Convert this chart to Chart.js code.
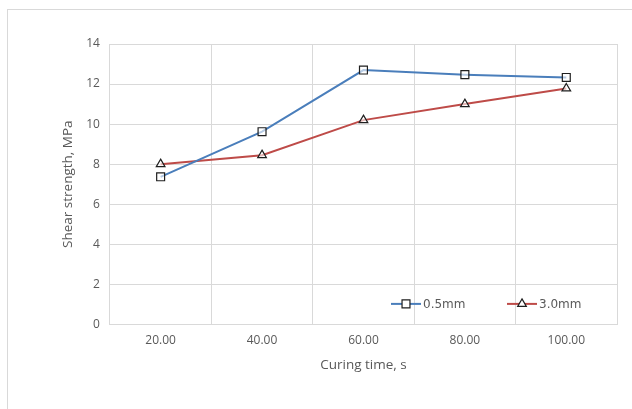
<!DOCTYPE html>
<html>
<head>
<meta charset="utf-8">
<script src="https://cdn.jsdelivr.net/npm/chart.js@4"></script>
<style>
html,body{margin:0;padding:0;background:#fff;}
#wrap{position:relative;width:632px;height:409px;}
</style>
</head>
<body>
<div id="wrap"><canvas id="c" width="632" height="409"></canvas></div>
<script>
const categories = ["20.00", "40.00", "60.00", "80.00", "100.00"];
const series05 = [7.37, 9.62, 12.70, 12.47, 12.33];
const series30 = [8.00, 8.45, 10.20, 11.00, 11.78];
const seriesNames = ["0.5mm", "3.0mm"];
const yTicks = [0, 2, 4, 6, 8, 10, 12, 14];

const FONT = "'Open Sans',sans-serif";
const LEGEND_FONT = "'DejaVu Sans',sans-serif";
const TXT = '#595959';
const GRID = '#d9d9d9';

const outerBorder = {
  id: 'outerBorder',
  beforeDraw(chart) {
    const ctx = chart.ctx;
    ctx.save();
    ctx.fillStyle = '#fff';
    ctx.fillRect(0, 0, chart.width, chart.height);
    ctx.strokeStyle = '#d9d9d9';
    ctx.lineWidth = 1;
    ctx.strokeRect(7.5, 9.5, chart.width + 20, chart.height + 20);
    ctx.restore();
  }
};

const insideLegend = {
  id: 'insideLegend',
  afterDatasetsDraw(chart) {
    const ctx = chart.ctx;
    const a = chart.chartArea;
    const y = a.bottom - 20.5;
    const starts = [a.right - 226, a.right - 110];
    ctx.save();
    chart.data.datasets.forEach((ds, i) => {
      const x0 = starts[i];
      ctx.strokeStyle = ds.borderColor;
      ctx.lineWidth = 2;
      ctx.beginPath();
      ctx.moveTo(x0, y);
      ctx.lineTo(x0 + 30, y);
      ctx.stroke();
      ctx.fillStyle = '#ffffff';
      ctx.strokeStyle = '#1f1f1f';
      ctx.lineWidth = 1.2;
      Chart.helpers.drawPoint(ctx, {
        pointStyle: ds.pointStyle,
        radius: ds.pointRadius,
        borderWidth: 1.2
      }, x0 + 15, y);
      ctx.fillStyle = TXT;
      ctx.font = "12px " + LEGEND_FONT;
      ctx.textBaseline = 'middle';
      ctx.textAlign = 'left';
      ctx.fillText(ds.label, x0 + 32, y + 0.5);
    });
    ctx.restore();
  }
};

new Chart(document.getElementById('c'), {
  type: 'line',
  data: {
    labels: categories,
    datasets: [
      {
        label: seriesNames[0],
        data: series05,
        borderColor: '#4a7ebb',
        borderWidth: 2,
        pointStyle: 'rect',
        pointRadius: 5.6,
        pointBorderColor: '#1f1f1f',
        pointBackgroundColor: 'rgba(255,255,255,0.6)',
        pointBorderWidth: 1.2,
        tension: 0
      },
      {
        label: seriesNames[1],
        data: series30,
        borderColor: '#be4b48',
        borderWidth: 2,
        pointStyle: 'triangle',
        pointRadius: 5,
        pointBorderColor: '#1f1f1f',
        pointBackgroundColor: 'rgba(255,255,255,0.6)',
        pointBorderWidth: 1.2,
        tension: 0
      }
    ]
  },
  options: {
    responsive: false,
    animation: false,
    devicePixelRatio: 1,
    layout: { padding: { left: 60, top: 44, right: 15, bottom: 36 } },
    plugins: {
      legend: { display: false },
      tooltip: { enabled: false }
    },
    scales: {
      x: {
        offset: true,
        grid: { offset: true, color: GRID, lineWidth: 1, drawTicks: false },
        border: { color: GRID },
        ticks: { color: TXT, font: { family: FONT, size: 12 }, padding: 9, maxRotation: 0 },
        title: { display: true, text: 'Curing time, s', color: TXT, font: { family: FONT, size: 13.5 }, padding: { top: 0, bottom: 0 } }
      },
      y: {
        min: 0, max: 14,
        afterBuildTicks(scale) { scale.ticks = yTicks.map(v => ({ value: v })); },
        grid: { color: GRID, lineWidth: 1, drawTicks: false },
        border: { color: GRID },
        ticks: { color: TXT, font: { family: FONT, size: 12 }, padding: 10 },
        title: { display: true, text: 'Shear strength, MPa', color: TXT, font: { family: FONT, size: 13.5 }, padding: { top: 0, bottom: 0 } }
      }
    }
  },
  plugins: [outerBorder, insideLegend]
});
</script>
</body>
</html>
